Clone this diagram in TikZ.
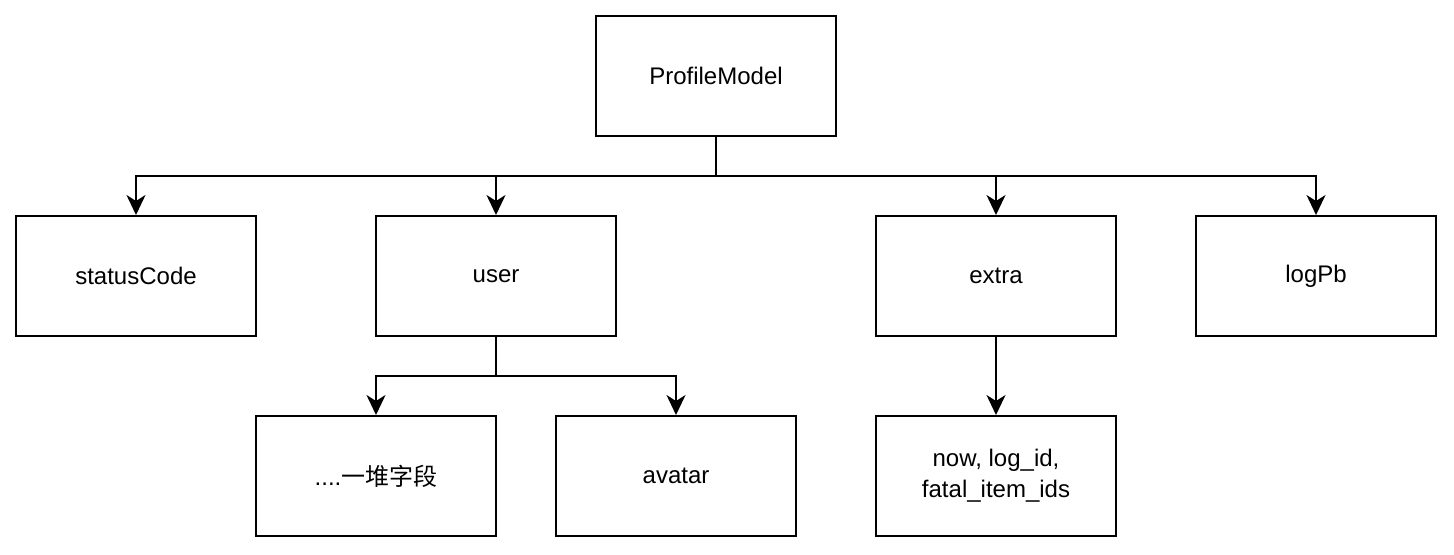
\documentclass[tikz,border=0pt]{standalone}
\usepackage{fontspec}
\setmainfont{Liberation Sans}
\newfontfamily\cjk{Noto Sans CJK SC}
\usetikzlibrary{arrows.meta}
\begin{document}
\begin{tikzpicture}[x=0.5pt,y=-0.5pt,
  box/.style={draw=black,line width=1pt,minimum width=120pt,minimum height=60pt,inner sep=0pt,font=\fontsize{12}{15.5}\selectfont,align=center,fill=white},
  conn/.style={line width=1pt,draw=black},
  arr/.style={conn,-{Stealth[length=10pt,width=9.5pt,inset=3pt]}}]
\useasboundingbox[fill=white] (0,0) rectangle (1454,554);
\node[box] (pm) at (716,76) {ProfileModel};
\node[box] (sc) at (136,276) {statusCode};
\node[box] (us) at (496,276) {user};
\node[box] (ex) at (996,276) {extra};
\node[box] (lp) at (1316,276) {logPb};
\node[box] (fd) at (376,476) {....{\cjk 一堆字段}};
\node[box] (av) at (676,476) {avatar};
\node[box] (nw) at (996,476) {now, log\_id,\\fatal\_item\_ids};
\coordinate (j1) at (716,176);
\coordinate (j2) at (496,376);
\draw[conn] (pm.south) -- (j1);
\draw[arr] (j1) -| (sc.north);
\draw[arr] (j1) -| (us.north);
\draw[arr] (j1) -| (ex.north);
\draw[arr] (j1) -| (lp.north);
\draw[conn] (us.south) -- (j2);
\draw[arr] (j2) -| (fd.north);
\draw[arr] (j2) -| (av.north);
\draw[arr] (ex.south) -- (nw.north);
\end{tikzpicture}
\end{document}
